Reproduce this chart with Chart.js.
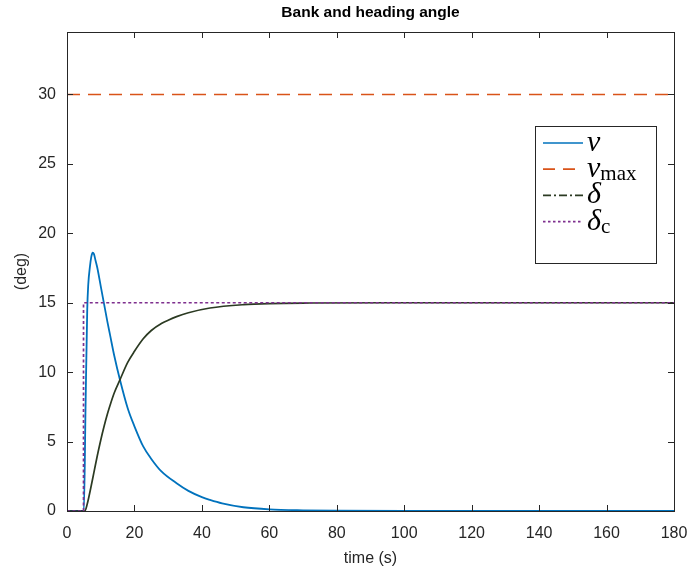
<!DOCTYPE html>
<html>
<head>
<meta charset="utf-8">
<script src="https://cdn.jsdelivr.net/npm/chart.js@4.4.1/dist/chart.umd.min.js"></script>
<style>
  body { margin: 0; background: #fff; }
</style>
</head>
<body>
<canvas id="myChart" width="689" height="571"></canvas>
<script>
// bank angle nu (deg) vs time (s)
const timeNu = [0, 5.0, 5.5, 6.0, 6.3, 6.8, 7.2, 7.6, 8.0, 8.5, 9, 10, 11, 12, 12.75, 14, 15.7, 18, 20, 22.6, 25, 28, 32.5, 36, 40, 42.4, 46, 52.3, 60, 70, 80, 100, 180];
const nu = [0, 0, 7.5, 14.5, 16.3, 17.6, 18.3, 18.6, 18.5, 18.0, 17.5, 16.2, 14.9, 13.6, 12.7, 11.2, 9.45, 7.4, 6.1, 4.65, 3.75, 2.85, 2.0, 1.45, 1.0, 0.8, 0.55, 0.27, 0.12, 0.05, 0.02, 0, 0];

// bank limit
const timeMax = [0, 180];
const nuMax = [30, 30];

// heading angle delta
const timeDelta = [0, 5.3, 6, 7, 8, 9, 10, 11, 12, 12.75, 14, 15.7, 18, 20, 22.6, 25, 28, 30, 32.5, 36, 42.4, 52.3, 60, 72, 100, 180];
const delta = [0, 0, 0.5, 1.6, 2.8, 4.0, 5.1, 6.1, 7.0, 7.6, 8.5, 9.45, 10.7, 11.5, 12.4, 13.0, 13.5, 13.74, 14.0, 14.28, 14.62, 14.86, 14.94, 14.98, 15, 15];

// commanded heading delta_c
const timeCmd = [0, 4.9, 4.9, 180];
const deltaCmd = [0, 0, 15, 15];

const xMin = 0, xMax = 180, xStep = 20;
const yMin = 0, yMax = 34.5, yStep = 5;

const pts = (xs, ys) => xs.map((x, i) => ({x: x, y: ys[i]}));

const axisColor = '#262626';

// legend entries: main symbol, subscript, colour, dash
const legendItems = [
  {sym: 'ν', sub: '', color: '#0072BD', dash: []},
  {sym: 'ν', sub: 'max', color: '#D95319', dash: [12, 8]},
  {sym: 'δ', sub: '', color: '#2b3a22', dash: [8, 3, 2, 3]},
  {sym: 'δ', sub: 'c', color: '#7E2F8E', dash: [2.5, 2.5]}
];

const boxPlugin = {
  id: 'matlabBox',
  afterDatasetsDraw(chart) {
    const {ctx, chartArea: a, scales} = chart;
    ctx.save();
    ctx.strokeStyle = axisColor;
    ctx.lineWidth = 1;
    ctx.setLineDash([]);
    const tl = 6;
    ctx.beginPath();
    scales.x.ticks.forEach(t => {
      const px = Math.round(scales.x.getPixelForValue(t.value)) + 0.5;
      ctx.moveTo(px, a.bottom); ctx.lineTo(px, a.bottom - tl);
      ctx.moveTo(px, a.top); ctx.lineTo(px, a.top + tl);
    });
    scales.y.ticks.forEach(t => {
      const py = Math.round(scales.y.getPixelForValue(t.value)) + 0.5;
      ctx.moveTo(a.left, py); ctx.lineTo(a.left + tl, py);
      ctx.moveTo(a.right, py); ctx.lineTo(a.right - tl, py);
    });
    ctx.stroke();
    ctx.strokeRect(Math.round(a.left) + 0.5, Math.round(a.top) + 0.5,
                   Math.round(a.right - a.left), Math.round(a.bottom - a.top));

    // legend
    const lx = 535, ly = 126, lw = 121, lh = 137;
    ctx.fillStyle = '#fff';
    ctx.fillRect(lx, ly, lw, lh);
    ctx.strokeStyle = axisColor;
    ctx.strokeRect(lx + 0.5, ly + 0.5, lw, lh);
    legendItems.forEach((it, i) => {
      const y = ly + 17 + i * 26.2;
      ctx.save();
      ctx.strokeStyle = it.color;
      ctx.lineWidth = 1.7;
      ctx.setLineDash(it.dash);
      ctx.beginPath();
      ctx.moveTo(lx + 8, y);
      ctx.lineTo(lx + 48, y);
      ctx.stroke();
      ctx.restore();
      ctx.fillStyle = '#000';
      ctx.textBaseline = 'alphabetic';
      ctx.textAlign = 'left';
      ctx.font = 'italic 30px "Liberation Serif"';
      ctx.fillText(it.sym, lx + 52, y + 8);
      if (it.sub) {
        const w = ctx.measureText(it.sym).width;
        ctx.font = '21px "Liberation Serif"';
        ctx.fillText(it.sub, lx + 52 + w, y + 11);
      }
    });
    ctx.restore();
  }
};

new Chart(document.getElementById('myChart'), {
  type: 'line',
  data: {
    datasets: [
      {label: 'nu', data: pts(timeNu, nu), borderColor: '#0072BD', borderWidth: 1.8,
       cubicInterpolationMode: 'monotone', pointRadius: 0, fill: false, order: 3},
      {label: 'nu_max', data: pts(timeMax, nuMax), borderColor: '#D95319', borderWidth: 1.7,
       borderDash: [13, 8], pointRadius: 0, fill: false, order: 2},
      {label: 'delta', data: pts(timeDelta, delta), borderColor: '#2b3a22', borderWidth: 1.7,
       cubicInterpolationMode: 'monotone', pointRadius: 0, fill: false, order: 1},
      {label: 'delta_c', data: pts(timeCmd, deltaCmd), borderColor: '#7E2F8E', borderWidth: 1.7,
       borderDash: [3, 2.5], pointRadius: 0, fill: false, tension: 0, order: 0}
    ]
  },
  options: {
    responsive: false,
    animation: false,
    devicePixelRatio: 1,
    layout: {padding: {left: 0, right: 15, top: 0, bottom: 0}},
    plugins: {
      legend: {display: false},
      tooltip: {enabled: false},
      title: {
        display: true,
        fullSize: false,
        text: 'Bank and heading angle',
        color: '#000',
        font: {family: '"Liberation Sans", Arial, sans-serif', size: 15.5, weight: 'bold', lineHeight: 1.2},
        padding: {top: 3, bottom: 10.4}
      }
    },
    scales: {
      x: {
        type: 'linear',
        min: xMin, max: xMax,
        grid: {display: false, drawTicks: false},
        border: {display: false},
        ticks: {stepSize: xStep, color: axisColor, padding: 13, maxRotation: 0,
                font: {family: '"Liberation Sans", Arial, sans-serif', size: 16}},
        title: {display: true, text: 'time (s)', color: axisColor,
                font: {family: '"Liberation Sans", Arial, sans-serif', size: 16},
                padding: {top: 0, bottom: 3}},
        afterFit(s) { s.height = 60; s.paddingLeft = 0; s.paddingRight = 0; }
      },
      y: {
        min: yMin, max: yMax,
        grid: {display: false, drawTicks: false},
        border: {display: false},
        ticks: {stepSize: yStep, color: axisColor, padding: 11,
                font: {family: '"Liberation Sans", Arial, sans-serif', size: 16}},
        afterBuildTicks(s) { s.ticks = s.ticks.filter(t => t.value % yStep === 0); },
        title: {display: true, text: '(deg)', color: axisColor,
                font: {family: '"Liberation Sans", Arial, sans-serif', size: 16},
                padding: {top: 12, bottom: 0}},
        afterFit(s) { s.width = 67; s.paddingTop = 0; s.paddingBottom = 0; }
      }
    }
  },
  plugins: [boxPlugin]
});
</script>
</body>
</html>
